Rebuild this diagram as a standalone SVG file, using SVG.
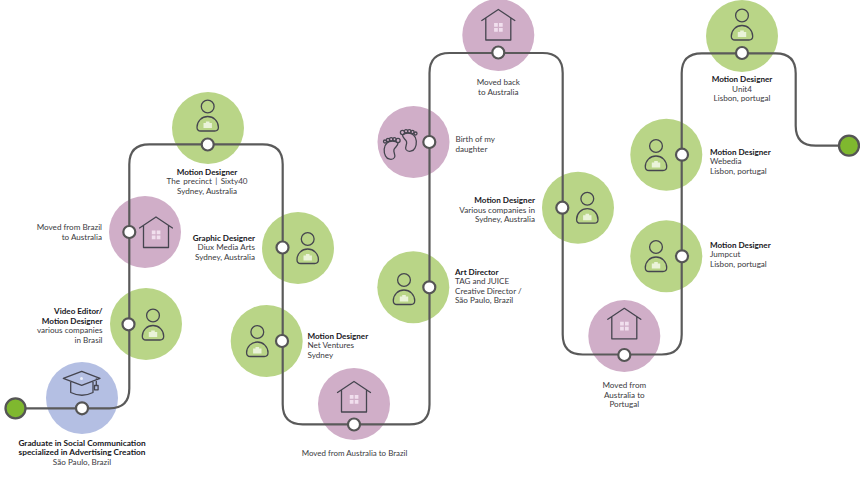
<svg xmlns="http://www.w3.org/2000/svg" xmlns:xlink="http://www.w3.org/1999/xlink" width="860" height="484" viewBox="0 0 860 484">
<style>
text{font-family:"Lato","Liberation Sans",sans-serif;font-size:8.100px;fill:#3a3a3e}
.b{font-weight:700;fill:#17171c;font-size:8.100px}
.gr{font-size:8.300px}
.e{text-anchor:end}.m{text-anchor:middle}
.g{fill:#b9d587}.p{fill:#d0aec8}.u{fill:#b4bfe3}
.dot{fill:#fff;stroke:#555;stroke-width:2.200}
.ic{fill:none;stroke:#45454f;stroke-width:1.300;stroke-linejoin:round;stroke-linecap:round}
.w{fill:#eaf3d9}.h{fill:#f1dfee}
#track{fill:none;stroke:#5a5a5a;stroke-width:2.200}
</style>
<defs>
<g id="person"><circle class="ic" cx="0" cy="0" r="6.400"/><path class="ic" d="M-7 24.500H7Q10.700 24.500 10.700 20.700A10.700 10.700 0 0 0-10.700 20.700Q-10.700 24.500-7 24.500Z"/><path class="w" d="M-4.200 16.500H-1.800V15H1.800V16.500H4.200V21.500H-4.200Z"/></g>
<g id="house"><path class="ic" d="M-16.500 11L0 0L16.500 11M-12.500 8.500V30.500H12.500V8.500"/><path class="h" d="M-4.200 13.500h3.700v3.700h-3.700zM.7 13.500h3.700v3.700H.7zM-4.200 18.500h3.700v3.700h-3.700zM.7 18.500h3.700v3.700H.7z"/></g>
<g id="foot"><path class="ic" d="M-4.500 -6C-8 -3-8 3-6 7C-4.500 10.500 1 11.500 3 8.500C4.500 6 1.500 3.500 2.500 0.500C3.500 -2 6.500 -3 6.500 -6C4 -8.500-2 -8.500-4.500 -6Z"/><circle class="ic" cx="-6.500" cy="-7.500" r="1.500"/><circle class="ic" cx="-3.500" cy="-9" r="1.600"/><circle class="ic" cx="-0.300" cy="-9.700" r="1.700"/><circle class="ic" cx="3" cy="-9.700" r="1.700"/><circle class="ic" cx="6.500" cy="-8.500" r="2.100"/></g>
</defs>
<g id="n1"><circle class="u" cx="82" cy="398" r="36"/><path class="ic" d="M63.300 378.300L81.700 371.300L100 378.300L81.700 385.300ZM70.700 382V392.500Q82 398 93 392.500V382M96.300 379V385"/><rect class="ic" x="94.500" y="385.500" width="3.600" height="4.300"/><circle cx="81.500" cy="378.500" r="1.500" fill="#eef1fb"/></g>
<g id="n2"><circle class="g" cx="146" cy="324" r="36"/><use xlink:href="#person" href="#person" x="153" y="315.500"/></g>
<g id="n3"><circle class="p" cx="145" cy="232" r="36"/><use xlink:href="#house" href="#house" x="156" y="217"/></g>
<g id="n4"><circle class="g" cx="208" cy="128" r="36"/><use xlink:href="#person" href="#person" x="207.700" y="106.500"/></g>
<g id="n5"><circle class="g" cx="298" cy="248" r="36"/><use xlink:href="#person" href="#person" x="307.700" y="239"/></g>
<g id="n6"><circle class="g" cx="266.700" cy="341" r="36"/><use xlink:href="#person" href="#person" x="257.300" y="332"/></g>
<g id="n7"><circle class="p" cx="354" cy="404" r="36"/><use xlink:href="#house" href="#house" x="354" y="381.500"/></g>
<g id="n8"><circle class="g" cx="413.300" cy="287.300" r="36"/><use xlink:href="#person" href="#person" x="404" y="280"/></g>
<g id="n9"><circle class="p" cx="413.500" cy="142" r="36"/><use xlink:href="#foot" href="#foot" x="391.500" y="149"/><use xlink:href="#foot" href="#foot" transform="translate(409 141) scale(-1 1)"/></g>
<g id="n10"><circle class="p" cx="498.300" cy="35" r="36"/><use xlink:href="#house" href="#house" x="498.300" y="9.500"/></g>
<g id="n11"><circle class="g" cx="578" cy="207.700" r="36"/><use xlink:href="#person" href="#person" x="587.300" y="198.700"/></g>
<g id="n12"><circle class="p" cx="624.300" cy="336" r="36"/><use xlink:href="#house" href="#house" x="624.300" y="308.300"/></g>
<g id="n13"><circle class="g" cx="666.300" cy="256.300" r="36"/><use xlink:href="#person" href="#person" x="656" y="247"/></g>
<g id="n14"><circle class="g" cx="666.300" cy="154.700" r="36"/><use xlink:href="#person" href="#person" x="656" y="146"/></g>
<g id="n15"><circle class="g" cx="742" cy="36" r="36"/><use xlink:href="#person" href="#person" x="742" y="15.500"/></g>
<g id="connectors"><path id="track" d="M15 408.300H109.500Q129.300 408.300 129.300 388.500V164.300Q129.300 144.300 149.300 144.300H262.700Q282.700 144.300 282.700 164.300V404.300Q282.700 424.400 302.700 424.400H409.500Q429.500 424.400 429.500 404.400V73Q429.500 53 449.500 53H542.700Q562.700 53 562.700 73V334.500Q562.700 354.500 582.700 354.500H661.700Q681.700 354.500 681.700 334.500V73.300Q681.700 53.300 701.700 53.300H775.700Q795.700 53.300 795.700 73.300V125.700Q795.700 145.700 815.700 145.700H849"/></g>
<g id="dots">
<circle cx="15.500" cy="408.300" r="10" fill="#7fb82f" stroke="#555" stroke-width="2.300"/>
<circle cx="849" cy="145.700" r="10" fill="#7fb82f" stroke="#555" stroke-width="2.300"/>
<circle class="dot" cx="82" cy="408.300" r="6"/><circle class="dot" cx="128.500" cy="324.300" r="6"/><circle class="dot" cx="129.300" cy="232" r="6"/><circle class="dot" cx="207.700" cy="144.500" r="6"/><circle class="dot" cx="282.500" cy="247.500" r="6"/><circle class="dot" cx="282" cy="341" r="6"/><circle class="dot" cx="354" cy="424.500" r="6"/><circle class="dot" cx="429.300" cy="287.300" r="6"/><circle class="dot" cx="429.300" cy="142" r="6"/><circle class="dot" cx="498.300" cy="52.500" r="6"/><circle class="dot" cx="562.300" cy="207.700" r="6"/><circle class="dot" cx="624.300" cy="355" r="6"/><circle class="dot" cx="682" cy="256.300" r="6"/><circle class="dot" cx="682" cy="154.700" r="6"/><circle class="dot" cx="742" cy="53" r="6"/>
</g>
<g id="labels">
<text class="m b gr" x="82" y="445.500">Graduate in Social Communication</text><text class="m b gr" x="82" y="455">specialized in Advertising Creation</text><text class="m" x="82" y="465">São Paulo, Brazil</text>
<text class="e b" x="102.500" y="314">Video Editor/</text><text class="e b" x="102.500" y="323.500">Motion Designer</text><text class="e" x="102.500" y="333">various companies</text><text class="e" x="102.500" y="342.500">in Brasil</text>
<text class="e" x="102" y="230">Moved from Brazil</text><text class="e" x="102" y="239.500">to Australia</text>
<text class="m b" x="207" y="174.500">Motion Designer</text><text class="m" x="207" y="184" style="word-spacing:1.300px">The precinct | Sixty40</text><text class="m" x="207" y="193.500">Sydney, Australia</text>
<text class="e b" x="255" y="240.500">Graphic Designer</text><text class="e" x="255" y="250">Diux Media Arts</text><text class="e" x="255" y="259.500">Sydney, Australia</text>
<text class="b" x="307.500" y="338.500">Motion Designer</text><text x="307.500" y="348">Net Ventures</text><text x="307.500" y="357.500">Sydney</text>
<text class="m" x="354.500" y="455.500" style="font-size:7.950px">Moved from Australia to Brazil</text>
<text class="b" x="455" y="274.500">Art Director</text><text x="455" y="284">TAG and JUICE</text><text x="455" y="293.500">Creative Director /</text><text x="455" y="303">São Paulo, Brazil</text>
<text x="455.500" y="142">Birth of my</text><text x="455.500" y="151.500">daughter</text>
<text class="m" x="498.300" y="85">Moved back</text><text class="m" x="498.300" y="94.500">to Australia</text>
<text class="e b" x="535" y="203">Motion Designer</text><text class="e" x="535" y="212.500" style="font-size:8.200px">Various companies in</text><text class="e" x="535" y="222">Sydney, Australia</text>
<text class="m" x="624.300" y="388">Moved from</text><text class="m" x="624.300" y="397.500">Australia to</text><text class="m" x="624.300" y="407">Portugal</text>
<text class="b" x="710" y="247.500">Motion Designer</text><text x="710" y="257">Jumpcut</text><text x="710" y="266.500">Lisbon, portugal</text>
<text class="b" x="710" y="154.700">Motion Designer</text><text x="710" y="164.200">Webedia</text><text x="710" y="173.700">Lisbon, portugal</text>
<text class="m b" x="742" y="82">Motion Designer</text><text class="m" x="742" y="91.500">Unit4</text><text class="m" x="742" y="101">Lisbon, portugal</text>
</g>
</svg>
